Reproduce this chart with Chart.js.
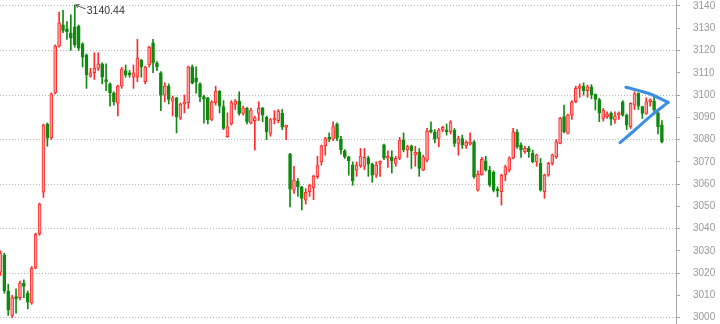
<!DOCTYPE html>
<html>
<head>
<meta charset="utf-8">
<script src="https://cdn.jsdelivr.net/npm/chart.js@4.4.1/dist/chart.umd.min.js"></script>
<style>
  html, body { margin: 0; padding: 0; background: #fff; }
  #wrap { width: 720px; height: 324px; }
</style>
</head>
<body>
<div id="wrap"><canvas id="myChart"></canvas></div>
<script>
// Daily candles (index 0 = first candle on the left)
let openPrices = [3020.5, 3028, 3012, 3001, 3009.5, 3009, 3015.5, 3011, 3006.6, 3022.3,
  3037.6, 3056.4, 3087, 3080.7, 3101, 3122, 3131.5, 3129.7, 3128, 3130.6,
  3131, 3123, 3118, 3108.5, 3110, 3112, 3114, 3107, 3105, 3101,
  3096.4, 3104, 3111, 3110, 3108, 3108, 3115.7, 3106, 3113.5, 3123.4,
  3114.4, 3110, 3100, 3104, 3097.3, 3098.8, 3089.7, 3096, 3096.6, 3112.7,
  3107.7, 3105, 3099.3, 3098.7, 3089, 3096.6, 3101.8, 3094.8, 3081.3, 3087,
  3095.8, 3097.3, 3091.8, 3094, 3087.4, 3088.5, 3091.8, 3094, 3090, 3082.8,
  3088.8, 3088.5, 3091.8, 3085.5, 3073.4, 3057.3, 3061.4, 3058.8, 3052.8, 3056.6,
  3058.4, 3063.3, 3070, 3077.2, 3080.8, 3080.2, 3086.9, 3080.2, 3074.9, 3072.3,
  3068.6, 3066.3, 3068.3, 3068, 3071.8, 3069, 3064, 3069.3, 3077.6, 3071.6,
  3072, 3069.3, 3071.6, 3079.8, 3075.3, 3077.2, 3073.1, 3074.5, 3066.3, 3070.8,
  3084.3, 3083.3, 3080.5, 3084.3, 3084.3, 3083.5, 3084.3, 3078.3, 3080.5, 3077.2,
  3077.9, 3079, 3057.3, 3064.1, 3070.4, 3066.3, 3065.3, 3057.8, 3056.6, 3064.1,
  3066.3, 3071.8, 3083.3, 3077.6, 3074.6, 3076.1, 3073.8, 3070, 3069.3, 3056.6,
  3064.1, 3069.3, 3072.3, 3078.3, 3090.3, 3082.8, 3091, 3097, 3103, 3104,
  3102, 3103.7, 3100.3, 3098, 3089.5, 3090.3, 3091.8, 3088.8, 3091, 3097,
  3091, 3085.8, 3095.5, 3100.8, 3094.8, 3091.8, 3097, 3097.3, 3092, 3086.5];

let highPrices = [3030, 3029, 3015, 3010, 3013, 3016.5, 3017, 3012, 3023, 3038,
  3051.5, 3087, 3087.5, 3101, 3122.5, 3137.3, 3138, 3133, 3136, 3140.44,
  3131.5, 3123.5, 3118.5, 3112, 3119, 3119, 3114.5, 3114, 3105.5, 3101.5,
  3104.5, 3112.5, 3113.5, 3111, 3113.5, 3125, 3116, 3113, 3122, 3125,
  3115, 3110.5, 3105.5, 3105, 3099.5, 3099, 3096.5, 3100, 3113, 3113.5,
  3112.7, 3105.5, 3100, 3099, 3097.5, 3104, 3102, 3097.5, 3092, 3097.5,
  3098, 3101.5, 3095, 3094.5, 3094, 3090.5, 3097, 3094.5, 3090.5, 3089.5,
  3093, 3093.5, 3093.5, 3086.5, 3073.8, 3068, 3062.5, 3059, 3058, 3060,
  3064, 3072.5, 3077.5, 3081, 3083, 3088, 3087.5, 3081.5, 3075.5, 3072.5,
  3070, 3070, 3076, 3076, 3072.5, 3069.5, 3070, 3070.5, 3078, 3075,
  3075, 3072.5, 3081, 3083, 3077.5, 3077.5, 3077, 3076, 3073, 3085,
  3088, 3084.5, 3085, 3086, 3087, 3088.5, 3085, 3081.5, 3082, 3079.5,
  3083, 3079.5, 3066, 3072, 3072.5, 3068, 3066, 3058.8, 3064.5, 3068.5,
  3072.3, 3085, 3084.5, 3078.5, 3077, 3077, 3075.3, 3073.5, 3071.5, 3064.5,
  3069.8, 3073.5, 3080, 3090, 3095.5, 3091.5, 3097.5, 3104, 3105, 3105.5,
  3104.5, 3104.7, 3100.5, 3098.5, 3094, 3092.5, 3092.5, 3092.5, 3092.5, 3097.5,
  3091.5, 3096.5, 3101.5, 3101, 3095, 3098.8, 3098.3, 3099, 3092.5, 3088.5];

let lowPrices = [3019, 3011, 3001, 3000, 3002, 3008, 3009, 3004, 3006, 3022,
  3037, 3054, 3077, 3080, 3100.5, 3121.5, 3128, 3125, 3120, 3121.5,
  3120, 3112.6, 3103, 3108, 3107, 3111, 3105, 3102, 3095, 3095.5,
  3090.6, 3103, 3108, 3108, 3103, 3106, 3108, 3105, 3112.6, 3110,
  3111, 3093, 3097, 3096, 3090.6, 3083, 3089, 3092, 3094, 3105,
  3100.8, 3097, 3087.4, 3087, 3088.5, 3095.5, 3092, 3084.5, 3081, 3086.5,
  3093.5, 3091, 3091, 3087, 3087, 3075.3, 3088.5, 3088, 3080, 3081.5,
  3087, 3087.5, 3084.5, 3080, 3049.8, 3055.8, 3054.5, 3048.4, 3051, 3054.5,
  3053, 3062.5, 3068.5, 3073, 3079, 3079.5, 3079.5, 3073.5, 3071.5, 3064,
  3059.5, 3063.5, 3067.5, 3066.5, 3063.5, 3060.8, 3063, 3063.5, 3071, 3067.5,
  3065, 3068, 3071, 3074.5, 3072, 3067, 3068, 3063.5, 3066, 3070,
  3083, 3078.5, 3076.8, 3083.5, 3082, 3082.5, 3076.8, 3073, 3076, 3076,
  3077.5, 3062.5, 3056.8, 3064, 3065.8, 3058.8, 3056.5, 3054.3, 3050.6, 3061.5,
  3065.5, 3071.3, 3076, 3072, 3073.8, 3072, 3069.5, 3068, 3056.8, 3053.6,
  3063.5, 3068.5, 3071.5, 3078, 3083, 3082.5, 3089, 3096.5, 3099, 3100,
  3099, 3098.3, 3093.3, 3088, 3088.3, 3089.5, 3086.5, 3087.3, 3089, 3090.5,
  3084.5, 3085, 3093.5, 3093.5, 3089.5, 3091.3, 3095, 3092.5, 3082.5, 3078.5];

let closePrices = [3029, 3012, 3003.4, 3009, 3008.5, 3015.5, 3014, 3007, 3022.3, 3037.6,
  3051, 3086.5, 3080.7, 3100.5, 3122, 3132.4, 3129, 3128.3, 3125.6, 3122.5,
  3121, 3117, 3109, 3110, 3112, 3114, 3108, 3106, 3101, 3097,
  3104, 3111.7, 3109, 3109, 3110, 3116.6, 3112.6, 3112.6, 3121.6, 3114.4,
  3112.6, 3100, 3104, 3098, 3098.8, 3090.3, 3096, 3097, 3112.7, 3105.3,
  3105.9, 3099.3, 3098.2, 3088.8, 3097, 3101.8, 3095, 3085, 3085.8, 3096.6,
  3097.3, 3091.8, 3094.3, 3088, 3093.3, 3089.8, 3094, 3091, 3083.5, 3089,
  3089.5, 3092.8, 3085.8, 3086.2, 3057.7, 3061.8, 3058.8, 3053.6, 3056.3, 3059.6,
  3063.7, 3068.3, 3077.2, 3080.5, 3080.2, 3085.8, 3080.5, 3075.3, 3072.3, 3070.4,
  3061.4, 3068.6, 3072.6, 3072, 3069, 3064, 3068.6, 3070, 3071.6, 3072.3,
  3070.4, 3071.6, 3079.8, 3075.3, 3076.8, 3074.9, 3074.3, 3067, 3072.3, 3083.8,
  3083.5, 3080.2, 3084.3, 3085.5, 3083.5, 3088, 3078.3, 3080.5, 3077.6, 3078.8,
  3079, 3063.3, 3064.4, 3071.1, 3066.3, 3059.6, 3057.3, 3056.9, 3064.1, 3067.8,
  3071.8, 3083.5, 3076.8, 3075.3, 3076.1, 3074.6, 3070, 3073.1, 3057.3, 3064.1,
  3069.3, 3073.1, 3079, 3089.5, 3083.5, 3091, 3097, 3103, 3104, 3102,
  3103.7, 3100, 3098, 3092, 3093.3, 3091.5, 3089.2, 3090.7, 3092, 3091,
  3086.5, 3096.3, 3100.5, 3095, 3091.8, 3097, 3097.6, 3093.3, 3085.8, 3079];

// Hand drawn triangle on the right, in [candle index, price]
let triangleTop = [[159.8, 3103.5], [165.5, 3100.8], [170.6, 3096.7]];
let triangleBottom = [[158.3, 3078.6], [162.1, 3084.3], [166.4, 3091.0], [170.6, 3096.7]];

let yTicks = { min: 2997.17, max: 3142.69, step: 10 };

let upFill = '#ff9f9f';
let upLine = '#ff2b2b';
let downColor = '#108a10';

// Build the floating bar data for bodies and wicks
let bodyData = [];
let wickData = [];
let bodyFill = [];
let bodyBorder = [];
let wickColor = [];
for (let i = 0; i < openPrices.length; i++) {
  let up = closePrices[i] >= openPrices[i];
  bodyData.push({ x: i, y: [openPrices[i], closePrices[i]] });
  wickData.push({ x: i, y: [lowPrices[i], highPrices[i]] });
  bodyFill.push(up ? upFill : downColor);
  bodyBorder.push(up ? upLine : downColor);
  wickColor.push(up ? upLine : downColor);
}

function toPoints(list) {
  return list.map(function(p) { return { x: p[0], y: p[1] }; });
}

// Arrow + label at the highest high
let highMarker = {
  id: 'highMarker',
  afterDatasetsDraw: function(chart) {
    let idx = 0;
    for (let i = 1; i < highPrices.length; i++) {
      if (highPrices[i] > highPrices[idx]) idx = i;
    }
    let px = chart.scales.x.getPixelForValue(idx);
    let py = chart.scales.y.getPixelForValue(highPrices[idx]);
    let ctx = chart.ctx;
    ctx.save();
    ctx.strokeStyle = '#555';
    ctx.lineWidth = 1;
    ctx.beginPath();
    ctx.moveTo(px + 1, py);
    ctx.lineTo(px + 11, py + 4);
    ctx.moveTo(px + 1, py);
    ctx.lineTo(px + 5, py - 0.5);
    ctx.moveTo(px + 1, py);
    ctx.lineTo(px + 3, py + 3);
    ctx.stroke();
    ctx.fillStyle = '#333';
    ctx.font = '10.5px "Liberation Sans", Arial, sans-serif';
    ctx.textBaseline = 'middle';
    ctx.fillText(highPrices[idx].toFixed(2), px + 12, py + 6);
    ctx.restore();
  }
};

let ctx = document.getElementById('myChart');
let myChart = new Chart(ctx, {
  type: 'bar',
  data: {
    datasets: [
      {
        type: 'line', data: toPoints(triangleTop), borderColor: '#3c8fe2', borderWidth: 3,
        tension: 0.35, pointRadius: 0, fill: false, borderCapStyle: 'round', order: 0
      },
      {
        type: 'line', data: toPoints(triangleBottom), borderColor: '#3c8fe2', borderWidth: 3,
        tension: 0.35, pointRadius: 0, fill: false, borderCapStyle: 'round', order: 0
      },
      {
        data: bodyData, backgroundColor: bodyFill, borderColor: bodyBorder, borderWidth: 1,
        borderSkipped: false, barThickness: 3, minBarLength: 2, grouped: false, order: 1
      },
      {
        data: wickData, backgroundColor: wickColor, borderWidth: 0,
        barThickness: 1, grouped: false, order: 2
      }
    ]
  },
  options: {
    responsive: true,
    maintainAspectRatio: false,
    animation: false,
    layout: { padding: 0 },
    plugins: { legend: { display: false }, tooltip: { enabled: false } },
    scales: {
      x: {
        type: 'linear',
        min: -0.1,
        max: 172.6,
        offset: false,
        display: false
      },
      y: {
        position: 'right',
        min: yTicks.min,
        max: yTicks.max,
        afterFit: function(scale) {
          scale.width = 44;
          scale.paddingTop = 0;
          scale.paddingBottom = 0;
        },
        border: { color: '#aaa', dash: [1, 2] },
        grid: {
          color: function(c) {
            return c.tick && c.tick.value % 20 === 0 ? '#b4b4b4' : 'rgba(0,0,0,0)';
          },
          tickColor: '#aaa',
          tickLength: 4
        },
        ticks: {
          stepSize: yTicks.step,
          includeBounds: false,
          padding: 13,
          color: '#999',
          font: { family: '"Liberation Sans", Arial, sans-serif', size: 10 },
          callback: function(value) { return String(value); }
        }
      }
    }
  },
  plugins: [highMarker]
});
</script>
</body>
</html>
